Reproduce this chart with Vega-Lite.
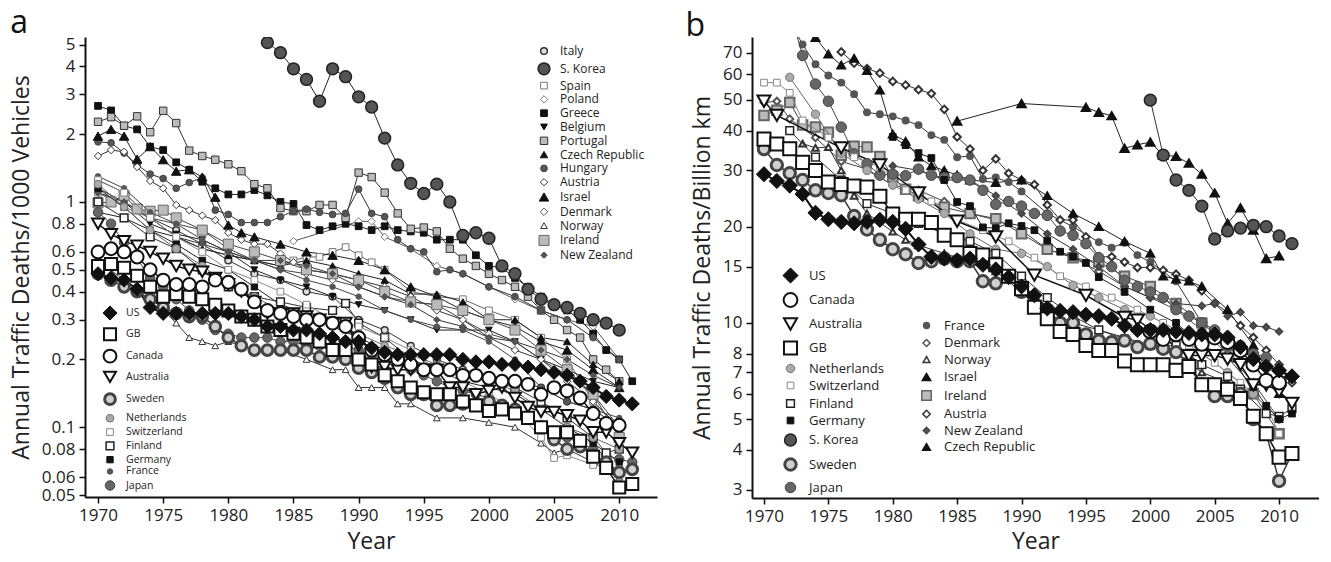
{
"$schema": "https://vega.github.io/schema/vega-lite/v6.json",
"padding": {"left": 10, "top": 6, "right": 0, "bottom": 6},
"spacing": 28,
"config": {
 "font": "Open Sans",
 "view": {"stroke": null},
 "axis": {"domainColor": "#111", "domainWidth": 2, "tickColor": "#111", "tickWidth": 1.5, "tickSize": 6, "labelFontSize": 17, "labelColor": "#222", "titleFontSize": 23, "titleFontWeight": "normal", "titleColor": "#222", "grid": false, "labelPadding": 4},
 "title": {"fontSize": 32, "fontWeight": "normal", "anchor": "start", "color": "#111"},
 "legend": {"labelColor": "#222"}
},
"datasets": {
"a": [
{"s":"Italy","x":1970,"y":1.25},{"s":"Italy","x":1972,"y":1.1},{"s":"Italy","x":1974,"y":0.85},{"s":"Italy","x":1976,"y":0.75},{"s":"Italy","x":1978,"y":0.65},{"s":"Italy","x":1980,"y":0.55},{"s":"Italy","x":1982,"y":0.48},{"s":"Italy","x":1984,"y":0.45},{"s":"Italy","x":1986,"y":0.4},{"s":"Italy","x":1988,"y":0.38},{"s":"Italy","x":1990,"y":0.3},{"s":"Italy","x":1992,"y":0.27},{"s":"Italy","x":1994,"y":0.23},{"s":"Italy","x":1996,"y":0.2},{"s":"Italy","x":1998,"y":0.18},{"s":"Italy","x":2000,"y":0.17},{"s":"Italy","x":2002,"y":0.16},{"s":"Italy","x":2004,"y":0.15},{"s":"Italy","x":2006,"y":0.13},{"s":"Italy","x":2008,"y":0.12},{"s":"Italy","x":2010,"y":0.1},
{"s":"Spain","x":1970,"y":1.1},{"s":"Spain","x":1972,"y":0.95},{"s":"Spain","x":1974,"y":0.85},{"s":"Spain","x":1976,"y":0.7},{"s":"Spain","x":1978,"y":0.62},{"s":"Spain","x":1980,"y":0.58},{"s":"Spain","x":1982,"y":0.55},{"s":"Spain","x":1984,"y":0.52},{"s":"Spain","x":1985,"y":0.55},{"s":"Spain","x":1986,"y":0.57},{"s":"Spain","x":1987,"y":0.57},{"s":"Spain","x":1988,"y":0.6},{"s":"Spain","x":1989,"y":0.63},{"s":"Spain","x":1990,"y":0.58},{"s":"Spain","x":1991,"y":0.54},{"s":"Spain","x":1992,"y":0.5},{"s":"Spain","x":1994,"y":0.4},{"s":"Spain","x":1996,"y":0.38},{"s":"Spain","x":1998,"y":0.37},{"s":"Spain","x":2000,"y":0.33},{"s":"Spain","x":2002,"y":0.3},{"s":"Spain","x":2004,"y":0.25},{"s":"Spain","x":2006,"y":0.2},{"s":"Spain","x":2008,"y":0.13},{"s":"Spain","x":2010,"y":0.1},
{"s":"Poland","x":1985,"y":0.67},{"s":"Poland","x":1990,"y":0.82},{"s":"Poland","x":1991,"y":0.82},{"s":"Poland","x":1992,"y":0.7},{"s":"Poland","x":1994,"y":0.62},{"s":"Poland","x":1996,"y":0.52},{"s":"Poland","x":1998,"y":0.48},{"s":"Poland","x":2000,"y":0.42},{"s":"Poland","x":2002,"y":0.37},{"s":"Poland","x":2004,"y":0.33},{"s":"Poland","x":2006,"y":0.3},{"s":"Poland","x":2008,"y":0.28},{"s":"Poland","x":2010,"y":0.2},
{"s":"Greece","x":1970,"y":2.67},{"s":"Greece","x":1971,"y":2.55},{"s":"Greece","x":1972,"y":2.18},{"s":"Greece","x":1973,"y":2.1},{"s":"Greece","x":1974,"y":1.76},{"s":"Greece","x":1975,"y":1.7},{"s":"Greece","x":1976,"y":1.5},{"s":"Greece","x":1977,"y":1.39},{"s":"Greece","x":1978,"y":1.23},{"s":"Greece","x":1979,"y":1.15},{"s":"Greece","x":1980,"y":1.08},{"s":"Greece","x":1981,"y":1.08},{"s":"Greece","x":1982,"y":1.13},{"s":"Greece","x":1983,"y":1.07},{"s":"Greece","x":1984,"y":1.0},{"s":"Greece","x":1985,"y":0.98},{"s":"Greece","x":1986,"y":0.79},{"s":"Greece","x":1987,"y":0.75},{"s":"Greece","x":1988,"y":0.78},{"s":"Greece","x":1989,"y":0.8},{"s":"Greece","x":1990,"y":0.78},{"s":"Greece","x":1991,"y":0.75},{"s":"Greece","x":1992,"y":0.78},{"s":"Greece","x":1993,"y":0.75},{"s":"Greece","x":1994,"y":0.74},{"s":"Greece","x":1995,"y":0.73},{"s":"Greece","x":1996,"y":0.68},{"s":"Greece","x":1997,"y":0.68},{"s":"Greece","x":1998,"y":0.68},{"s":"Greece","x":1999,"y":0.58},{"s":"Greece","x":2000,"y":0.52},{"s":"Greece","x":2001,"y":0.51},{"s":"Greece","x":2002,"y":0.46},{"s":"Greece","x":2003,"y":0.42},{"s":"Greece","x":2004,"y":0.38},{"s":"Greece","x":2005,"y":0.35},{"s":"Greece","x":2006,"y":0.33},{"s":"Greece","x":2007,"y":0.3},{"s":"Greece","x":2008,"y":0.26},{"s":"Greece","x":2009,"y":0.22},{"s":"Greece","x":2010,"y":0.2},{"s":"Greece","x":2011,"y":0.16},
{"s":"Belgium","x":1970,"y":1.15},{"s":"Belgium","x":1972,"y":1.0},{"s":"Belgium","x":1974,"y":0.8},{"s":"Belgium","x":1976,"y":0.72},{"s":"Belgium","x":1978,"y":0.68},{"s":"Belgium","x":1980,"y":0.6},{"s":"Belgium","x":1982,"y":0.5},{"s":"Belgium","x":1984,"y":0.45},{"s":"Belgium","x":1986,"y":0.42},{"s":"Belgium","x":1988,"y":0.38},{"s":"Belgium","x":1990,"y":0.35},{"s":"Belgium","x":1992,"y":0.33},{"s":"Belgium","x":1994,"y":0.3},{"s":"Belgium","x":1996,"y":0.27},{"s":"Belgium","x":1998,"y":0.27},{"s":"Belgium","x":2000,"y":0.27},{"s":"Belgium","x":2002,"y":0.24},{"s":"Belgium","x":2004,"y":0.2},{"s":"Belgium","x":2006,"y":0.18},{"s":"Belgium","x":2008,"y":0.16},{"s":"Belgium","x":2010,"y":0.15},
{"s":"Portugal","x":1970,"y":2.27},{"s":"Portugal","x":1971,"y":2.38},{"s":"Portugal","x":1972,"y":2.18},{"s":"Portugal","x":1973,"y":2.4},{"s":"Portugal","x":1974,"y":2.04},{"s":"Portugal","x":1975,"y":2.54},{"s":"Portugal","x":1976,"y":2.24},{"s":"Portugal","x":1977,"y":1.69},{"s":"Portugal","x":1978,"y":1.6},{"s":"Portugal","x":1979,"y":1.54},{"s":"Portugal","x":1980,"y":1.47},{"s":"Portugal","x":1981,"y":1.37},{"s":"Portugal","x":1982,"y":1.2},{"s":"Portugal","x":1983,"y":1.15},{"s":"Portugal","x":1984,"y":0.94},{"s":"Portugal","x":1985,"y":0.91},{"s":"Portugal","x":1986,"y":0.91},{"s":"Portugal","x":1987,"y":0.97},{"s":"Portugal","x":1988,"y":0.97},{"s":"Portugal","x":1989,"y":0.85},{"s":"Portugal","x":1990,"y":1.35},{"s":"Portugal","x":1991,"y":1.29},{"s":"Portugal","x":1992,"y":1.1},{"s":"Portugal","x":1993,"y":0.89},{"s":"Portugal","x":1994,"y":0.76},{"s":"Portugal","x":1995,"y":0.77},{"s":"Portugal","x":1996,"y":0.74},{"s":"Portugal","x":1997,"y":0.62},{"s":"Portugal","x":1998,"y":0.56},{"s":"Portugal","x":1999,"y":0.52},{"s":"Portugal","x":2000,"y":0.48},{"s":"Portugal","x":2001,"y":0.45},{"s":"Portugal","x":2002,"y":0.42},{"s":"Portugal","x":2003,"y":0.38},{"s":"Portugal","x":2004,"y":0.33},{"s":"Portugal","x":2005,"y":0.3},{"s":"Portugal","x":2006,"y":0.27},{"s":"Portugal","x":2007,"y":0.25},{"s":"Portugal","x":2008,"y":0.2},{"s":"Portugal","x":2009,"y":0.18},{"s":"Portugal","x":2010,"y":0.16},
{"s":"Czech Republic","x":1970,"y":0.9},{"s":"Czech Republic","x":1972,"y":0.85},{"s":"Czech Republic","x":1974,"y":0.75},{"s":"Czech Republic","x":1976,"y":0.7},{"s":"Czech Republic","x":1978,"y":0.62},{"s":"Czech Republic","x":1980,"y":0.58},{"s":"Czech Republic","x":1982,"y":0.55},{"s":"Czech Republic","x":1984,"y":0.52},{"s":"Czech Republic","x":1986,"y":0.55},{"s":"Czech Republic","x":1988,"y":0.52},{"s":"Czech Republic","x":1990,"y":0.48},{"s":"Czech Republic","x":1992,"y":0.45},{"s":"Czech Republic","x":1994,"y":0.39},{"s":"Czech Republic","x":1996,"y":0.39},{"s":"Czech Republic","x":1998,"y":0.36},{"s":"Czech Republic","x":2000,"y":0.3},{"s":"Czech Republic","x":2002,"y":0.3},{"s":"Czech Republic","x":2004,"y":0.25},{"s":"Czech Republic","x":2006,"y":0.24},{"s":"Czech Republic","x":2008,"y":0.19},{"s":"Czech Republic","x":2010,"y":0.16},
{"s":"Hungary","x":1970,"y":1.85},{"s":"Hungary","x":1971,"y":1.83},{"s":"Hungary","x":1972,"y":1.65},{"s":"Hungary","x":1973,"y":1.46},{"s":"Hungary","x":1974,"y":1.33},{"s":"Hungary","x":1975,"y":1.27},{"s":"Hungary","x":1976,"y":1.15},{"s":"Hungary","x":1977,"y":1.22},{"s":"Hungary","x":1978,"y":1.28},{"s":"Hungary","x":1979,"y":0.92},{"s":"Hungary","x":1980,"y":0.88},{"s":"Hungary","x":1981,"y":0.81},{"s":"Hungary","x":1982,"y":0.81},{"s":"Hungary","x":1983,"y":0.81},{"s":"Hungary","x":1984,"y":0.86},{"s":"Hungary","x":1985,"y":0.91},{"s":"Hungary","x":1986,"y":0.93},{"s":"Hungary","x":1987,"y":0.9},{"s":"Hungary","x":1988,"y":0.88},{"s":"Hungary","x":1989,"y":0.89},{"s":"Hungary","x":1990,"y":1.14},{"s":"Hungary","x":1991,"y":0.89},{"s":"Hungary","x":1992,"y":0.86},{"s":"Hungary","x":1993,"y":0.68},{"s":"Hungary","x":1994,"y":0.62},{"s":"Hungary","x":1995,"y":0.6},{"s":"Hungary","x":1996,"y":0.49},{"s":"Hungary","x":1997,"y":0.5},{"s":"Hungary","x":1998,"y":0.48},{"s":"Hungary","x":2000,"y":0.42},{"s":"Hungary","x":2002,"y":0.38},{"s":"Hungary","x":2004,"y":0.33},{"s":"Hungary","x":2006,"y":0.3},{"s":"Hungary","x":2008,"y":0.25},{"s":"Hungary","x":2010,"y":0.2},
{"s":"Austria","x":1970,"y":1.6},{"s":"Austria","x":1971,"y":1.7},{"s":"Austria","x":1972,"y":1.67},{"s":"Austria","x":1973,"y":1.43},{"s":"Austria","x":1974,"y":1.24},{"s":"Austria","x":1975,"y":1.15},{"s":"Austria","x":1976,"y":0.97},{"s":"Austria","x":1977,"y":0.92},{"s":"Austria","x":1978,"y":0.87},{"s":"Austria","x":1979,"y":0.83},{"s":"Austria","x":1980,"y":0.73},{"s":"Austria","x":1981,"y":0.68},{"s":"Austria","x":1982,"y":0.65},{"s":"Austria","x":1983,"y":0.65},{"s":"Austria","x":1984,"y":0.59},{"s":"Austria","x":1985,"y":0.54},{"s":"Austria","x":1986,"y":0.5},{"s":"Austria","x":1988,"y":0.48},{"s":"Austria","x":1990,"y":0.45},{"s":"Austria","x":1992,"y":0.42},{"s":"Austria","x":1994,"y":0.38},{"s":"Austria","x":1996,"y":0.33},{"s":"Austria","x":1998,"y":0.3},{"s":"Austria","x":2000,"y":0.25},{"s":"Austria","x":2002,"y":0.22},{"s":"Austria","x":2004,"y":0.2},{"s":"Austria","x":2006,"y":0.16},{"s":"Austria","x":2008,"y":0.13},{"s":"Austria","x":2010,"y":0.1},
{"s":"Israel","x":1970,"y":1.96},{"s":"Israel","x":1971,"y":2.1},{"s":"Israel","x":1972,"y":1.96},{"s":"Israel","x":1973,"y":1.55},{"s":"Israel","x":1974,"y":1.76},{"s":"Israel","x":1975,"y":1.54},{"s":"Israel","x":1976,"y":1.37},{"s":"Israel","x":1977,"y":1.39},{"s":"Israel","x":1978,"y":1.29},{"s":"Israel","x":1979,"y":1.05},{"s":"Israel","x":1980,"y":0.79},{"s":"Israel","x":1981,"y":0.73},{"s":"Israel","x":1982,"y":0.7},{"s":"Israel","x":1984,"y":0.65},{"s":"Israel","x":1986,"y":0.6},{"s":"Israel","x":1988,"y":0.58},{"s":"Israel","x":1990,"y":0.55},{"s":"Israel","x":1992,"y":0.5},{"s":"Israel","x":1994,"y":0.42},{"s":"Israel","x":1996,"y":0.38},{"s":"Israel","x":1998,"y":0.33},{"s":"Israel","x":2000,"y":0.3},{"s":"Israel","x":2002,"y":0.28},{"s":"Israel","x":2004,"y":0.24},{"s":"Israel","x":2006,"y":0.22},{"s":"Israel","x":2008,"y":0.18},{"s":"Israel","x":2010,"y":0.15},
{"s":"Denmark","x":1970,"y":1.1},{"s":"Denmark","x":1972,"y":1.0},{"s":"Denmark","x":1974,"y":0.85},{"s":"Denmark","x":1976,"y":0.8},{"s":"Denmark","x":1978,"y":0.75},{"s":"Denmark","x":1980,"y":0.62},{"s":"Denmark","x":1982,"y":0.55},{"s":"Denmark","x":1984,"y":0.5},{"s":"Denmark","x":1986,"y":0.48},{"s":"Denmark","x":1988,"y":0.45},{"s":"Denmark","x":1990,"y":0.42},{"s":"Denmark","x":1992,"y":0.38},{"s":"Denmark","x":1994,"y":0.36},{"s":"Denmark","x":1996,"y":0.35},{"s":"Denmark","x":1998,"y":0.3},{"s":"Denmark","x":2000,"y":0.26},{"s":"Denmark","x":2002,"y":0.24},{"s":"Denmark","x":2004,"y":0.2},{"s":"Denmark","x":2006,"y":0.17},{"s":"Denmark","x":2008,"y":0.14},{"s":"Denmark","x":2010,"y":0.1},
{"s":"Norway","x":1970,"y":0.55},{"s":"Norway","x":1972,"y":0.45},{"s":"Norway","x":1974,"y":0.38},{"s":"Norway","x":1976,"y":0.29},{"s":"Norway","x":1977,"y":0.25},{"s":"Norway","x":1978,"y":0.24},{"s":"Norway","x":1979,"y":0.23},{"s":"Norway","x":1980,"y":0.24},{"s":"Norway","x":1982,"y":0.22},{"s":"Norway","x":1984,"y":0.22},{"s":"Norway","x":1986,"y":0.2},{"s":"Norway","x":1988,"y":0.18},{"s":"Norway","x":1989,"y":0.18},{"s":"Norway","x":1990,"y":0.15},{"s":"Norway","x":1991,"y":0.15},{"s":"Norway","x":1992,"y":0.15},{"s":"Norway","x":1993,"y":0.127},{"s":"Norway","x":1994,"y":0.127},{"s":"Norway","x":1996,"y":0.11},{"s":"Norway","x":1998,"y":0.11},{"s":"Norway","x":2000,"y":0.105},{"s":"Norway","x":2002,"y":0.1},{"s":"Norway","x":2004,"y":0.085},{"s":"Norway","x":2005,"y":0.077},{"s":"Norway","x":2006,"y":0.08},{"s":"Norway","x":2008,"y":0.07},{"s":"Norway","x":2010,"y":0.06},
{"s":"Ireland","x":1970,"y":0.99},{"s":"Ireland","x":1971,"y":1.0},{"s":"Ireland","x":1972,"y":1.07},{"s":"Ireland","x":1973,"y":0.93},{"s":"Ireland","x":1974,"y":0.91},{"s":"Ireland","x":1975,"y":0.92},{"s":"Ireland","x":1976,"y":0.85},{"s":"Ireland","x":1978,"y":0.75},{"s":"Ireland","x":1980,"y":0.65},{"s":"Ireland","x":1982,"y":0.6},{"s":"Ireland","x":1984,"y":0.55},{"s":"Ireland","x":1986,"y":0.5},{"s":"Ireland","x":1988,"y":0.48},{"s":"Ireland","x":1990,"y":0.45},{"s":"Ireland","x":1992,"y":0.4},{"s":"Ireland","x":1994,"y":0.36},{"s":"Ireland","x":1996,"y":0.35},{"s":"Ireland","x":1998,"y":0.33},{"s":"Ireland","x":2000,"y":0.3},{"s":"Ireland","x":2002,"y":0.27},{"s":"Ireland","x":2004,"y":0.22},{"s":"Ireland","x":2006,"y":0.18},{"s":"Ireland","x":2008,"y":0.14},{"s":"Ireland","x":2010,"y":0.09},
{"s":"New Zealand","x":1970,"y":1.1},{"s":"New Zealand","x":1972,"y":1.0},{"s":"New Zealand","x":1974,"y":0.85},{"s":"New Zealand","x":1976,"y":0.7},{"s":"New Zealand","x":1978,"y":0.65},{"s":"New Zealand","x":1980,"y":0.6},{"s":"New Zealand","x":1982,"y":0.55},{"s":"New Zealand","x":1984,"y":0.55},{"s":"New Zealand","x":1986,"y":0.52},{"s":"New Zealand","x":1988,"y":0.48},{"s":"New Zealand","x":1990,"y":0.42},{"s":"New Zealand","x":1992,"y":0.38},{"s":"New Zealand","x":1994,"y":0.35},{"s":"New Zealand","x":1996,"y":0.3},{"s":"New Zealand","x":1998,"y":0.28},{"s":"New Zealand","x":2000,"y":0.25},{"s":"New Zealand","x":2002,"y":0.24},{"s":"New Zealand","x":2004,"y":0.22},{"s":"New Zealand","x":2006,"y":0.2},{"s":"New Zealand","x":2008,"y":0.17},{"s":"New Zealand","x":2010,"y":0.15},
{"s":"S. Korea","x":1983,"y":5.1},{"s":"S. Korea","x":1984,"y":4.6},{"s":"S. Korea","x":1985,"y":3.9},{"s":"S. Korea","x":1986,"y":3.5},{"s":"S. Korea","x":1987,"y":2.8},{"s":"S. Korea","x":1988,"y":3.9},{"s":"S. Korea","x":1989,"y":3.6},{"s":"S. Korea","x":1990,"y":2.93},{"s":"S. Korea","x":1991,"y":2.64},{"s":"S. Korea","x":1992,"y":1.92},{"s":"S. Korea","x":1993,"y":1.46},{"s":"S. Korea","x":1994,"y":1.21},{"s":"S. Korea","x":1995,"y":1.09},{"s":"S. Korea","x":1996,"y":1.2},{"s":"S. Korea","x":1997,"y":1.0},{"s":"S. Korea","x":1998,"y":0.71},{"s":"S. Korea","x":1999,"y":0.73},{"s":"S. Korea","x":2000,"y":0.69},{"s":"S. Korea","x":2001,"y":0.52},{"s":"S. Korea","x":2002,"y":0.48},{"s":"S. Korea","x":2003,"y":0.41},{"s":"S. Korea","x":2004,"y":0.37},{"s":"S. Korea","x":2005,"y":0.35},{"s":"S. Korea","x":2006,"y":0.34},{"s":"S. Korea","x":2007,"y":0.32},{"s":"S. Korea","x":2008,"y":0.3},{"s":"S. Korea","x":2009,"y":0.29},{"s":"S. Korea","x":2010,"y":0.27},
{"s":"Japan","x":1970,"y":0.9},{"s":"Japan","x":1971,"y":0.8},{"s":"Japan","x":1972,"y":0.66},{"s":"Japan","x":1973,"y":0.56},{"s":"Japan","x":1974,"y":0.46},{"s":"Japan","x":1975,"y":0.42},{"s":"Japan","x":1976,"y":0.37},{"s":"Japan","x":1977,"y":0.33},{"s":"Japan","x":1978,"y":0.3},{"s":"Japan","x":1979,"y":0.27},{"s":"Japan","x":1980,"y":0.26},{"s":"Japan","x":1981,"y":0.25},{"s":"Japan","x":1982,"y":0.25},{"s":"Japan","x":1983,"y":0.25},{"s":"Japan","x":1984,"y":0.24},{"s":"Japan","x":1985,"y":0.24},{"s":"Japan","x":1986,"y":0.23},{"s":"Japan","x":1987,"y":0.23},{"s":"Japan","x":1988,"y":0.23},{"s":"Japan","x":1989,"y":0.23},{"s":"Japan","x":1990,"y":0.22},{"s":"Japan","x":1991,"y":0.21},{"s":"Japan","x":1992,"y":0.2},{"s":"Japan","x":1993,"y":0.19},{"s":"Japan","x":1994,"y":0.18},{"s":"Japan","x":1995,"y":0.17},{"s":"Japan","x":1996,"y":0.16},{"s":"Japan","x":1997,"y":0.15},{"s":"Japan","x":1998,"y":0.145},{"s":"Japan","x":1999,"y":0.14},{"s":"Japan","x":2000,"y":0.135},{"s":"Japan","x":2001,"y":0.125},{"s":"Japan","x":2002,"y":0.115},{"s":"Japan","x":2003,"y":0.11},{"s":"Japan","x":2004,"y":0.1},{"s":"Japan","x":2005,"y":0.095},{"s":"Japan","x":2006,"y":0.09},{"s":"Japan","x":2007,"y":0.085},{"s":"Japan","x":2008,"y":0.08},{"s":"Japan","x":2009,"y":0.075},{"s":"Japan","x":2010,"y":0.072},{"s":"Japan","x":2011,"y":0.07},
{"s":"France","x":1970,"y":1.3},{"s":"France","x":1972,"y":1.15},{"s":"France","x":1974,"y":0.9},{"s":"France","x":1976,"y":0.8},{"s":"France","x":1978,"y":0.68},{"s":"France","x":1980,"y":0.6},{"s":"France","x":1982,"y":0.55},{"s":"France","x":1984,"y":0.5},{"s":"France","x":1986,"y":0.45},{"s":"France","x":1988,"y":0.42},{"s":"France","x":1990,"y":0.38},{"s":"France","x":1992,"y":0.33},{"s":"France","x":1994,"y":0.3},{"s":"France","x":1996,"y":0.28},{"s":"France","x":1998,"y":0.27},{"s":"France","x":2000,"y":0.24},{"s":"France","x":2002,"y":0.2},{"s":"France","x":2004,"y":0.15},{"s":"France","x":2006,"y":0.13},{"s":"France","x":2008,"y":0.12},{"s":"France","x":2010,"y":0.11},
{"s":"Germany","x":1970,"y":1.15},{"s":"Germany","x":1972,"y":0.95},{"s":"Germany","x":1974,"y":0.75},{"s":"Germany","x":1976,"y":0.65},{"s":"Germany","x":1978,"y":0.55},{"s":"Germany","x":1980,"y":0.5},{"s":"Germany","x":1982,"y":0.42},{"s":"Germany","x":1984,"y":0.35},{"s":"Germany","x":1986,"y":0.32},{"s":"Germany","x":1988,"y":0.28},{"s":"Germany","x":1990,"y":0.25},{"s":"Germany","x":1992,"y":0.22},{"s":"Germany","x":1994,"y":0.2},{"s":"Germany","x":1996,"y":0.18},{"s":"Germany","x":1998,"y":0.16},{"s":"Germany","x":2000,"y":0.15},{"s":"Germany","x":2002,"y":0.14},{"s":"Germany","x":2004,"y":0.12},{"s":"Germany","x":2006,"y":0.1},{"s":"Germany","x":2008,"y":0.085},{"s":"Germany","x":2010,"y":0.07},
{"s":"Finland","x":1970,"y":1.0},{"s":"Finland","x":1972,"y":0.85},{"s":"Finland","x":1974,"y":0.7},{"s":"Finland","x":1976,"y":0.62},{"s":"Finland","x":1978,"y":0.5},{"s":"Finland","x":1980,"y":0.42},{"s":"Finland","x":1982,"y":0.38},{"s":"Finland","x":1984,"y":0.36},{"s":"Finland","x":1986,"y":0.34},{"s":"Finland","x":1988,"y":0.33},{"s":"Finland","x":1989,"y":0.355},{"s":"Finland","x":1990,"y":0.29},{"s":"Finland","x":1992,"y":0.25},{"s":"Finland","x":1994,"y":0.2},{"s":"Finland","x":1996,"y":0.18},{"s":"Finland","x":1998,"y":0.17},{"s":"Finland","x":2000,"y":0.16},{"s":"Finland","x":2002,"y":0.15},{"s":"Finland","x":2004,"y":0.13},{"s":"Finland","x":2006,"y":0.11},{"s":"Finland","x":2008,"y":0.09},{"s":"Finland","x":2009,"y":0.077},{"s":"Finland","x":2010,"y":0.08},
{"s":"Switzerland","x":1970,"y":1.25},{"s":"Switzerland","x":1972,"y":1.1},{"s":"Switzerland","x":1974,"y":0.85},{"s":"Switzerland","x":1976,"y":0.7},{"s":"Switzerland","x":1978,"y":0.6},{"s":"Switzerland","x":1980,"y":0.5},{"s":"Switzerland","x":1982,"y":0.45},{"s":"Switzerland","x":1984,"y":0.4},{"s":"Switzerland","x":1986,"y":0.35},{"s":"Switzerland","x":1988,"y":0.3},{"s":"Switzerland","x":1990,"y":0.28},{"s":"Switzerland","x":1992,"y":0.25},{"s":"Switzerland","x":1994,"y":0.22},{"s":"Switzerland","x":1996,"y":0.18},{"s":"Switzerland","x":1998,"y":0.16},{"s":"Switzerland","x":2000,"y":0.14},{"s":"Switzerland","x":2002,"y":0.12},{"s":"Switzerland","x":2004,"y":0.09},{"s":"Switzerland","x":2005,"y":0.073},{"s":"Switzerland","x":2006,"y":0.075},{"s":"Switzerland","x":2008,"y":0.068},{"s":"Switzerland","x":2010,"y":0.065},
{"s":"Netherlands","x":1970,"y":1.2},{"s":"Netherlands","x":1972,"y":0.95},{"s":"Netherlands","x":1974,"y":0.75},{"s":"Netherlands","x":1976,"y":0.62},{"s":"Netherlands","x":1978,"y":0.52},{"s":"Netherlands","x":1980,"y":0.43},{"s":"Netherlands","x":1982,"y":0.38},{"s":"Netherlands","x":1984,"y":0.33},{"s":"Netherlands","x":1986,"y":0.3},{"s":"Netherlands","x":1988,"y":0.29},{"s":"Netherlands","x":1990,"y":0.26},{"s":"Netherlands","x":1992,"y":0.23},{"s":"Netherlands","x":1994,"y":0.21},{"s":"Netherlands","x":1996,"y":0.19},{"s":"Netherlands","x":1998,"y":0.17},{"s":"Netherlands","x":2000,"y":0.16},{"s":"Netherlands","x":2002,"y":0.145},{"s":"Netherlands","x":2004,"y":0.12},{"s":"Netherlands","x":2006,"y":0.1},{"s":"Netherlands","x":2008,"y":0.09},{"s":"Netherlands","x":2010,"y":0.08},
{"s":"Sweden","x":1970,"y":0.48},{"s":"Sweden","x":1971,"y":0.45},{"s":"Sweden","x":1972,"y":0.42},{"s":"Sweden","x":1973,"y":0.4},{"s":"Sweden","x":1974,"y":0.37},{"s":"Sweden","x":1975,"y":0.34},{"s":"Sweden","x":1976,"y":0.32},{"s":"Sweden","x":1977,"y":0.31},{"s":"Sweden","x":1978,"y":0.31},{"s":"Sweden","x":1979,"y":0.28},{"s":"Sweden","x":1980,"y":0.25},{"s":"Sweden","x":1981,"y":0.23},{"s":"Sweden","x":1982,"y":0.22},{"s":"Sweden","x":1983,"y":0.22},{"s":"Sweden","x":1984,"y":0.22},{"s":"Sweden","x":1985,"y":0.22},{"s":"Sweden","x":1986,"y":0.22},{"s":"Sweden","x":1987,"y":0.205},{"s":"Sweden","x":1988,"y":0.205},{"s":"Sweden","x":1989,"y":0.2},{"s":"Sweden","x":1990,"y":0.183},{"s":"Sweden","x":1991,"y":0.175},{"s":"Sweden","x":1992,"y":0.165},{"s":"Sweden","x":1993,"y":0.15},{"s":"Sweden","x":1994,"y":0.14},{"s":"Sweden","x":1995,"y":0.14},{"s":"Sweden","x":1996,"y":0.125},{"s":"Sweden","x":1997,"y":0.125},{"s":"Sweden","x":1998,"y":0.127},{"s":"Sweden","x":1999,"y":0.125},{"s":"Sweden","x":2000,"y":0.13},{"s":"Sweden","x":2001,"y":0.125},{"s":"Sweden","x":2002,"y":0.12},{"s":"Sweden","x":2003,"y":0.11},{"s":"Sweden","x":2004,"y":0.1},{"s":"Sweden","x":2005,"y":0.088},{"s":"Sweden","x":2006,"y":0.08},{"s":"Sweden","x":2007,"y":0.082},{"s":"Sweden","x":2008,"y":0.075},{"s":"Sweden","x":2009,"y":0.07},{"s":"Sweden","x":2010,"y":0.063},{"s":"Sweden","x":2011,"y":0.065},
{"s":"Australia","x":1970,"y":0.8},{"s":"Australia","x":1971,"y":0.72},{"s":"Australia","x":1972,"y":0.67},{"s":"Australia","x":1973,"y":0.64},{"s":"Australia","x":1974,"y":0.6},{"s":"Australia","x":1975,"y":0.56},{"s":"Australia","x":1976,"y":0.52},{"s":"Australia","x":1977,"y":0.5},{"s":"Australia","x":1978,"y":0.49},{"s":"Australia","x":1979,"y":0.46},{"s":"Australia","x":1980,"y":0.43},{"s":"Australia","x":1981,"y":0.4},{"s":"Australia","x":1982,"y":0.36},{"s":"Australia","x":1983,"y":0.32},{"s":"Australia","x":1984,"y":0.32},{"s":"Australia","x":1985,"y":0.32},{"s":"Australia","x":1986,"y":0.31},{"s":"Australia","x":1987,"y":0.3},{"s":"Australia","x":1988,"y":0.29},{"s":"Australia","x":1989,"y":0.29},{"s":"Australia","x":1990,"y":0.23},{"s":"Australia","x":1991,"y":0.185},{"s":"Australia","x":1992,"y":0.185},{"s":"Australia","x":1993,"y":0.18},{"s":"Australia","x":1994,"y":0.18},{"s":"Australia","x":1995,"y":0.18},{"s":"Australia","x":1996,"y":0.18},{"s":"Australia","x":1997,"y":0.15},{"s":"Australia","x":1998,"y":0.15},{"s":"Australia","x":1999,"y":0.14},{"s":"Australia","x":2000,"y":0.145},{"s":"Australia","x":2001,"y":0.15},{"s":"Australia","x":2002,"y":0.135},{"s":"Australia","x":2003,"y":0.123},{"s":"Australia","x":2004,"y":0.117},{"s":"Australia","x":2005,"y":0.117},{"s":"Australia","x":2006,"y":0.113},{"s":"Australia","x":2007,"y":0.107},{"s":"Australia","x":2008,"y":0.095},{"s":"Australia","x":2009,"y":0.095},{"s":"Australia","x":2010,"y":0.085},{"s":"Australia","x":2011,"y":0.077},
{"s":"GB","x":1970,"y":0.52},{"s":"GB","x":1971,"y":0.53},{"s":"GB","x":1972,"y":0.51},{"s":"GB","x":1973,"y":0.47},{"s":"GB","x":1974,"y":0.42},{"s":"GB","x":1975,"y":0.38},{"s":"GB","x":1976,"y":0.39},{"s":"GB","x":1977,"y":0.38},{"s":"GB","x":1978,"y":0.37},{"s":"GB","x":1979,"y":0.35},{"s":"GB","x":1980,"y":0.33},{"s":"GB","x":1981,"y":0.31},{"s":"GB","x":1982,"y":0.3},{"s":"GB","x":1983,"y":0.28},{"s":"GB","x":1984,"y":0.27},{"s":"GB","x":1985,"y":0.26},{"s":"GB","x":1986,"y":0.25},{"s":"GB","x":1987,"y":0.24},{"s":"GB","x":1988,"y":0.22},{"s":"GB","x":1989,"y":0.22},{"s":"GB","x":1990,"y":0.2},{"s":"GB","x":1991,"y":0.19},{"s":"GB","x":1992,"y":0.17},{"s":"GB","x":1993,"y":0.16},{"s":"GB","x":1994,"y":0.15},{"s":"GB","x":1995,"y":0.143},{"s":"GB","x":1996,"y":0.14},{"s":"GB","x":1997,"y":0.14},{"s":"GB","x":1998,"y":0.13},{"s":"GB","x":1999,"y":0.125},{"s":"GB","x":2000,"y":0.118},{"s":"GB","x":2001,"y":0.12},{"s":"GB","x":2002,"y":0.115},{"s":"GB","x":2003,"y":0.11},{"s":"GB","x":2004,"y":0.1},{"s":"GB","x":2005,"y":0.095},{"s":"GB","x":2006,"y":0.095},{"s":"GB","x":2007,"y":0.087},{"s":"GB","x":2008,"y":0.074},{"s":"GB","x":2009,"y":0.066},{"s":"GB","x":2010,"y":0.054},{"s":"GB","x":2011,"y":0.056},
{"s":"Canada","x":1970,"y":0.6},{"s":"Canada","x":1971,"y":0.62},{"s":"Canada","x":1972,"y":0.6},{"s":"Canada","x":1973,"y":0.57},{"s":"Canada","x":1974,"y":0.5},{"s":"Canada","x":1975,"y":0.45},{"s":"Canada","x":1976,"y":0.43},{"s":"Canada","x":1977,"y":0.43},{"s":"Canada","x":1978,"y":0.42},{"s":"Canada","x":1979,"y":0.45},{"s":"Canada","x":1980,"y":0.44},{"s":"Canada","x":1981,"y":0.41},{"s":"Canada","x":1982,"y":0.36},{"s":"Canada","x":1983,"y":0.33},{"s":"Canada","x":1984,"y":0.32},{"s":"Canada","x":1985,"y":0.31},{"s":"Canada","x":1986,"y":0.3},{"s":"Canada","x":1987,"y":0.3},{"s":"Canada","x":1988,"y":0.29},{"s":"Canada","x":1989,"y":0.28},{"s":"Canada","x":1990,"y":0.25},{"s":"Canada","x":1991,"y":0.22},{"s":"Canada","x":1992,"y":0.21},{"s":"Canada","x":1993,"y":0.2},{"s":"Canada","x":1994,"y":0.19},{"s":"Canada","x":1995,"y":0.18},{"s":"Canada","x":1996,"y":0.18},{"s":"Canada","x":1997,"y":0.18},{"s":"Canada","x":1998,"y":0.17},{"s":"Canada","x":1999,"y":0.17},{"s":"Canada","x":2000,"y":0.165},{"s":"Canada","x":2001,"y":0.16},{"s":"Canada","x":2002,"y":0.16},{"s":"Canada","x":2003,"y":0.155},{"s":"Canada","x":2004,"y":0.14},{"s":"Canada","x":2005,"y":0.15},{"s":"Canada","x":2006,"y":0.145},{"s":"Canada","x":2007,"y":0.135},{"s":"Canada","x":2008,"y":0.115},{"s":"Canada","x":2009,"y":0.104},{"s":"Canada","x":2010,"y":0.102},
{"s":"US","x":1970,"y":0.48},{"s":"US","x":1971,"y":0.46},{"s":"US","x":1972,"y":0.45},{"s":"US","x":1973,"y":0.41},{"s":"US","x":1974,"y":0.34},{"s":"US","x":1975,"y":0.32},{"s":"US","x":1976,"y":0.32},{"s":"US","x":1977,"y":0.32},{"s":"US","x":1978,"y":0.32},{"s":"US","x":1979,"y":0.32},{"s":"US","x":1980,"y":0.32},{"s":"US","x":1981,"y":0.31},{"s":"US","x":1982,"y":0.3},{"s":"US","x":1983,"y":0.28},{"s":"US","x":1984,"y":0.28},{"s":"US","x":1985,"y":0.27},{"s":"US","x":1986,"y":0.27},{"s":"US","x":1987,"y":0.26},{"s":"US","x":1988,"y":0.25},{"s":"US","x":1989,"y":0.24},{"s":"US","x":1990,"y":0.24},{"s":"US","x":1991,"y":0.225},{"s":"US","x":1992,"y":0.215},{"s":"US","x":1993,"y":0.21},{"s":"US","x":1994,"y":0.21},{"s":"US","x":1995,"y":0.21},{"s":"US","x":1996,"y":0.21},{"s":"US","x":1997,"y":0.21},{"s":"US","x":1998,"y":0.2},{"s":"US","x":1999,"y":0.195},{"s":"US","x":2000,"y":0.195},{"s":"US","x":2001,"y":0.19},{"s":"US","x":2002,"y":0.19},{"s":"US","x":2003,"y":0.185},{"s":"US","x":2004,"y":0.18},{"s":"US","x":2005,"y":0.175},{"s":"US","x":2006,"y":0.17},{"s":"US","x":2007,"y":0.16},{"s":"US","x":2008,"y":0.15},{"s":"US","x":2009,"y":0.137},{"s":"US","x":2010,"y":0.132},{"s":"US","x":2011,"y":0.127}
],
"b": [
{"s":"France","x":1972,"y":88},{"s":"France","x":1973,"y":74.4},{"s":"France","x":1974,"y":64.5},{"s":"France","x":1975,"y":59.5},{"s":"France","x":1976,"y":56.5},{"s":"France","x":1977,"y":52},{"s":"France","x":1978,"y":45.6},{"s":"France","x":1979,"y":45},{"s":"France","x":1980,"y":44.3},{"s":"France","x":1981,"y":43},{"s":"France","x":1982,"y":41.6},{"s":"France","x":1983,"y":38.7},{"s":"France","x":1984,"y":37.4},{"s":"France","x":1985,"y":33},{"s":"France","x":1986,"y":33.3},{"s":"France","x":1987,"y":28.2},{"s":"France","x":1988,"y":28.5},{"s":"France","x":1989,"y":27.6},{"s":"France","x":1990,"y":25.8},{"s":"France","x":1992,"y":22},{"s":"France","x":1994,"y":20},{"s":"France","x":1996,"y":17.9},{"s":"France","x":1997,"y":17.2},{"s":"France","x":1998,"y":17.8},{"s":"France","x":1999,"y":16.3},{"s":"France","x":2000,"y":15.5},{"s":"France","x":2002,"y":13.5},{"s":"France","x":2004,"y":10},{"s":"France","x":2006,"y":9},{"s":"France","x":2008,"y":8},{"s":"France","x":2010,"y":7},{"s":"France","x":2011,"y":6.8},
{"s":"Denmark","x":1970,"y":49},{"s":"Denmark","x":1971,"y":49.4},{"s":"Denmark","x":1972,"y":43.5},{"s":"Denmark","x":1974,"y":38},{"s":"Denmark","x":1976,"y":32},{"s":"Denmark","x":1978,"y":30.3},{"s":"Denmark","x":1980,"y":27},{"s":"Denmark","x":1982,"y":26},{"s":"Denmark","x":1984,"y":24},{"s":"Denmark","x":1986,"y":22},{"s":"Denmark","x":1988,"y":21},{"s":"Denmark","x":1990,"y":19.5},{"s":"Denmark","x":1992,"y":17},{"s":"Denmark","x":1994,"y":16},{"s":"Denmark","x":1996,"y":14.5},{"s":"Denmark","x":1998,"y":13},{"s":"Denmark","x":2000,"y":12},{"s":"Denmark","x":2002,"y":11},{"s":"Denmark","x":2004,"y":9.5},{"s":"Denmark","x":2006,"y":8},{"s":"Denmark","x":2008,"y":6.5},{"s":"Denmark","x":2010,"y":5},
{"s":"Norway","x":1973,"y":36.4},{"s":"Norway","x":1974,"y":35.3},{"s":"Norway","x":1975,"y":35.5},{"s":"Norway","x":1976,"y":30},{"s":"Norway","x":1977,"y":25},{"s":"Norway","x":1978,"y":22},{"s":"Norway","x":1980,"y":19.3},{"s":"Norway","x":1981,"y":18.2},{"s":"Norway","x":1982,"y":17.5},{"s":"Norway","x":1984,"y":16.5},{"s":"Norway","x":1986,"y":15.5},{"s":"Norway","x":1988,"y":14.5},{"s":"Norway","x":1990,"y":12.5},{"s":"Norway","x":1992,"y":11},{"s":"Norway","x":1994,"y":10},{"s":"Norway","x":1996,"y":9.5},{"s":"Norway","x":1998,"y":9},{"s":"Norway","x":2000,"y":8.5},{"s":"Norway","x":2002,"y":8},{"s":"Norway","x":2004,"y":7},{"s":"Norway","x":2006,"y":6.5},{"s":"Norway","x":2008,"y":6},{"s":"Norway","x":2010,"y":5},
{"s":"Israel","x":1985,"y":42.8},{"s":"Israel","x":1990,"y":48.6},{"s":"Israel","x":1995,"y":47.3},{"s":"Israel","x":1996,"y":45.6},{"s":"Israel","x":1997,"y":44.5},{"s":"Israel","x":1998,"y":35.2},{"s":"Israel","x":1999,"y":36.1},{"s":"Israel","x":2000,"y":36.8},{"s":"Israel","x":2001,"y":33.5},{"s":"Israel","x":2002,"y":33.2},{"s":"Israel","x":2003,"y":31.6},{"s":"Israel","x":2004,"y":29.2},{"s":"Israel","x":2005,"y":25.5},{"s":"Israel","x":2006,"y":20.5},{"s":"Israel","x":2007,"y":22.9},{"s":"Israel","x":2008,"y":19.5},{"s":"Israel","x":2009,"y":15.9},{"s":"Israel","x":2010,"y":16.2},
{"s":"Ireland","x":1970,"y":44.6},{"s":"Ireland","x":1971,"y":46.3},{"s":"Ireland","x":1972,"y":49},{"s":"Ireland","x":1973,"y":41.6},{"s":"Ireland","x":1974,"y":41},{"s":"Ireland","x":1975,"y":39.5},{"s":"Ireland","x":1976,"y":33.5},{"s":"Ireland","x":1977,"y":35.7},{"s":"Ireland","x":1978,"y":35.5},{"s":"Ireland","x":1979,"y":33.2},{"s":"Ireland","x":1980,"y":28.6},{"s":"Ireland","x":1981,"y":26.2},{"s":"Ireland","x":1982,"y":25},{"s":"Ireland","x":1984,"y":23},{"s":"Ireland","x":1986,"y":22},{"s":"Ireland","x":1988,"y":21.2},{"s":"Ireland","x":1990,"y":19},{"s":"Ireland","x":1992,"y":17},{"s":"Ireland","x":1994,"y":16},{"s":"Ireland","x":1996,"y":15.5},{"s":"Ireland","x":1998,"y":14},{"s":"Ireland","x":2000,"y":13},{"s":"Ireland","x":2002,"y":11.5},{"s":"Ireland","x":2004,"y":10},{"s":"Ireland","x":2006,"y":8.5},{"s":"Ireland","x":2008,"y":6},{"s":"Ireland","x":2010,"y":4.5},
{"s":"Austria","x":1976,"y":70.5},{"s":"Austria","x":1977,"y":65},{"s":"Austria","x":1978,"y":62.5},{"s":"Austria","x":1979,"y":60.5},{"s":"Austria","x":1980,"y":57},{"s":"Austria","x":1981,"y":55.5},{"s":"Austria","x":1982,"y":53.7},{"s":"Austria","x":1983,"y":52.2},{"s":"Austria","x":1984,"y":46.6},{"s":"Austria","x":1985,"y":38.2},{"s":"Austria","x":1986,"y":35},{"s":"Austria","x":1987,"y":30},{"s":"Austria","x":1988,"y":32.6},{"s":"Austria","x":1989,"y":29.4},{"s":"Austria","x":1990,"y":28},{"s":"Austria","x":1991,"y":27.1},{"s":"Austria","x":1992,"y":23.4},{"s":"Austria","x":1993,"y":21},{"s":"Austria","x":1994,"y":21},{"s":"Austria","x":1995,"y":18.6},{"s":"Austria","x":1996,"y":16.1},{"s":"Austria","x":1997,"y":16.1},{"s":"Austria","x":1998,"y":15.5},{"s":"Austria","x":1999,"y":14.9},{"s":"Austria","x":2000,"y":14.9},{"s":"Austria","x":2001,"y":14.6},{"s":"Austria","x":2002,"y":14.2},{"s":"Austria","x":2003,"y":13.6},{"s":"Austria","x":2004,"y":12.6},{"s":"Austria","x":2005,"y":11.5},{"s":"Austria","x":2006,"y":10.8},{"s":"Austria","x":2007,"y":9.8},{"s":"Austria","x":2008,"y":9},{"s":"Austria","x":2009,"y":8.2},{"s":"Austria","x":2010,"y":7.4},{"s":"Austria","x":2011,"y":6.5},
{"s":"New Zealand","x":1980,"y":31},{"s":"New Zealand","x":1982,"y":30},{"s":"New Zealand","x":1984,"y":28},{"s":"New Zealand","x":1986,"y":28},{"s":"New Zealand","x":1988,"y":25},{"s":"New Zealand","x":1990,"y":22},{"s":"New Zealand","x":1992,"y":19},{"s":"New Zealand","x":1994,"y":17},{"s":"New Zealand","x":1996,"y":15},{"s":"New Zealand","x":1998,"y":13},{"s":"New Zealand","x":2000,"y":12},{"s":"New Zealand","x":2002,"y":11.5},{"s":"New Zealand","x":2004,"y":11.3},{"s":"New Zealand","x":2005,"y":11.5},{"s":"New Zealand","x":2006,"y":10.5},{"s":"New Zealand","x":2007,"y":10.8},{"s":"New Zealand","x":2008,"y":9.8},{"s":"New Zealand","x":2009,"y":9.7},{"s":"New Zealand","x":2010,"y":9.4},
{"s":"Czech Republic","x":1974,"y":78.2},{"s":"Czech Republic","x":1975,"y":69.4},{"s":"Czech Republic","x":1976,"y":64.1},{"s":"Czech Republic","x":1977,"y":67.3},{"s":"Czech Republic","x":1978,"y":61.6},{"s":"Czech Republic","x":1979,"y":53.5},{"s":"Czech Republic","x":1980,"y":39},{"s":"Czech Republic","x":1981,"y":37},{"s":"Czech Republic","x":1982,"y":33},{"s":"Czech Republic","x":1983,"y":31},{"s":"Czech Republic","x":1984,"y":30},{"s":"Czech Republic","x":1985,"y":29},{"s":"Czech Republic","x":1986,"y":28},{"s":"Czech Republic","x":1988,"y":27.5},{"s":"Czech Republic","x":1990,"y":28},{"s":"Czech Republic","x":1992,"y":25},{"s":"Czech Republic","x":1994,"y":22},{"s":"Czech Republic","x":1996,"y":20},{"s":"Czech Republic","x":1998,"y":18},{"s":"Czech Republic","x":2000,"y":16.5},{"s":"Czech Republic","x":2001,"y":14},{"s":"Czech Republic","x":2002,"y":13.7},{"s":"Czech Republic","x":2003,"y":13.5},{"s":"Czech Republic","x":2004,"y":13},{"s":"Czech Republic","x":2006,"y":11},{"s":"Czech Republic","x":2008,"y":8.5},{"s":"Czech Republic","x":2010,"y":6},
{"s":"Japan","x":1972,"y":95},{"s":"Japan","x":1973,"y":68.7},{"s":"Japan","x":1974,"y":55.9},{"s":"Japan","x":1975,"y":49.4},{"s":"Japan","x":1976,"y":41},{"s":"Japan","x":1977,"y":33.8},{"s":"Japan","x":1978,"y":31.5},{"s":"Japan","x":1979,"y":29},{"s":"Japan","x":1980,"y":29.2},{"s":"Japan","x":1981,"y":28.9},{"s":"Japan","x":1982,"y":30.3},{"s":"Japan","x":1983,"y":29},{"s":"Japan","x":1984,"y":28.5},{"s":"Japan","x":1985,"y":28.5},{"s":"Japan","x":1986,"y":28},{"s":"Japan","x":1987,"y":26},{"s":"Japan","x":1988,"y":23.5},{"s":"Japan","x":1989,"y":24},{"s":"Japan","x":1990,"y":23.2},{"s":"Japan","x":1991,"y":22},{"s":"Japan","x":1992,"y":21.7},{"s":"Japan","x":1993,"y":19.4},{"s":"Japan","x":1994,"y":18.8},{"s":"Japan","x":1995,"y":17.7},{"s":"Japan","x":1996,"y":16},{"s":"Japan","x":1997,"y":15},{"s":"Japan","x":1998,"y":13.6},{"s":"Japan","x":1999,"y":13},{"s":"Japan","x":2000,"y":12.5},{"s":"Japan","x":2001,"y":12},{"s":"Japan","x":2002,"y":11},{"s":"Japan","x":2003,"y":10.5},{"s":"Japan","x":2004,"y":10},{"s":"Japan","x":2005,"y":9.5},{"s":"Japan","x":2006,"y":9},{"s":"Japan","x":2007,"y":8.5},{"s":"Japan","x":2008,"y":8},{"s":"Japan","x":2009,"y":7.8},
{"s":"Netherlands","x":1972,"y":58.7},{"s":"Netherlands","x":1974,"y":45},{"s":"Netherlands","x":1976,"y":34},{"s":"Netherlands","x":1978,"y":30},{"s":"Netherlands","x":1980,"y":27},{"s":"Netherlands","x":1982,"y":24.4},{"s":"Netherlands","x":1984,"y":22},{"s":"Netherlands","x":1986,"y":19},{"s":"Netherlands","x":1988,"y":17},{"s":"Netherlands","x":1990,"y":16.5},{"s":"Netherlands","x":1992,"y":15},{"s":"Netherlands","x":1994,"y":13.1},{"s":"Netherlands","x":1996,"y":12},{"s":"Netherlands","x":1998,"y":11},{"s":"Netherlands","x":2000,"y":10.5},{"s":"Netherlands","x":2002,"y":9.5},{"s":"Netherlands","x":2004,"y":8},{"s":"Netherlands","x":2006,"y":7},{"s":"Netherlands","x":2008,"y":6},{"s":"Netherlands","x":2010,"y":5},
{"s":"Switzerland","x":1970,"y":56.5},{"s":"Switzerland","x":1971,"y":56.5},{"s":"Switzerland","x":1972,"y":52.5},{"s":"Switzerland","x":1973,"y":43},{"s":"Switzerland","x":1975,"y":38},{"s":"Switzerland","x":1977,"y":33},{"s":"Switzerland","x":1979,"y":30.8},{"s":"Switzerland","x":1981,"y":26},{"s":"Switzerland","x":1983,"y":24},{"s":"Switzerland","x":1985,"y":21},{"s":"Switzerland","x":1987,"y":19.5},{"s":"Switzerland","x":1989,"y":18},{"s":"Switzerland","x":1991,"y":16},{"s":"Switzerland","x":1993,"y":14},{"s":"Switzerland","x":1995,"y":13},{"s":"Switzerland","x":1997,"y":12},{"s":"Switzerland","x":1999,"y":11},{"s":"Switzerland","x":2001,"y":10},{"s":"Switzerland","x":2003,"y":8.5},{"s":"Switzerland","x":2005,"y":7.5},{"s":"Switzerland","x":2007,"y":6.5},{"s":"Switzerland","x":2009,"y":5.5},{"s":"Switzerland","x":2010,"y":4.5},
{"s":"Finland","x":1972,"y":40},{"s":"Finland","x":1974,"y":33},{"s":"Finland","x":1976,"y":28},{"s":"Finland","x":1978,"y":23.6},{"s":"Finland","x":1980,"y":22},{"s":"Finland","x":1982,"y":20.5},{"s":"Finland","x":1984,"y":19},{"s":"Finland","x":1986,"y":18},{"s":"Finland","x":1988,"y":16.5},{"s":"Finland","x":1990,"y":14},{"s":"Finland","x":1992,"y":12},{"s":"Finland","x":1994,"y":10.5},{"s":"Finland","x":1996,"y":9.5},{"s":"Finland","x":1998,"y":8.9},{"s":"Finland","x":2000,"y":8.5},{"s":"Finland","x":2002,"y":8.5},{"s":"Finland","x":2004,"y":7.4},{"s":"Finland","x":2006,"y":6.8},{"s":"Finland","x":2007,"y":6.2},{"s":"Finland","x":2009,"y":5.2},{"s":"Finland","x":2010,"y":5.1},{"s":"Finland","x":2011,"y":5.4},
{"s":"Germany","x":1980,"y":38.2},{"s":"Germany","x":1981,"y":36},{"s":"Germany","x":1982,"y":34},{"s":"Germany","x":1983,"y":32.8},{"s":"Germany","x":1984,"y":28},{"s":"Germany","x":1985,"y":23.9},{"s":"Germany","x":1986,"y":23.2},{"s":"Germany","x":1987,"y":19.9},{"s":"Germany","x":1988,"y":19.8},{"s":"Germany","x":1989,"y":20.5},{"s":"Germany","x":1990,"y":20.1},{"s":"Germany","x":1991,"y":19.5},{"s":"Germany","x":1992,"y":18.1},{"s":"Germany","x":1993,"y":16.7},{"s":"Germany","x":1994,"y":16.1},{"s":"Germany","x":1995,"y":15.4},{"s":"Germany","x":1996,"y":13.9},{"s":"Germany","x":1998,"y":12.5},{"s":"Germany","x":2000,"y":11},{"s":"Germany","x":2002,"y":10},{"s":"Germany","x":2004,"y":8.5},{"s":"Germany","x":2006,"y":7.8},{"s":"Germany","x":2008,"y":6.3},{"s":"Germany","x":2009,"y":5.5},{"s":"Germany","x":2010,"y":5},{"s":"Germany","x":2011,"y":5.2},
{"s":"S. Korea","x":2000,"y":49.8},{"s":"S. Korea","x":2001,"y":33.5},{"s":"S. Korea","x":2002,"y":28},{"s":"S. Korea","x":2003,"y":26},{"s":"S. Korea","x":2004,"y":23.2},{"s":"S. Korea","x":2005,"y":18.3},{"s":"S. Korea","x":2006,"y":19.4},{"s":"S. Korea","x":2007,"y":19.8},{"s":"S. Korea","x":2008,"y":20.2},{"s":"S. Korea","x":2009,"y":20},{"s":"S. Korea","x":2010,"y":18.7},{"s":"S. Korea","x":2011,"y":17.7},
{"s":"Sweden","x":1970,"y":35},{"s":"Sweden","x":1971,"y":31.2},{"s":"Sweden","x":1972,"y":29.4},{"s":"Sweden","x":1973,"y":28},{"s":"Sweden","x":1974,"y":26},{"s":"Sweden","x":1975,"y":25.5},{"s":"Sweden","x":1976,"y":25.1},{"s":"Sweden","x":1977,"y":21.6},{"s":"Sweden","x":1978,"y":19.6},{"s":"Sweden","x":1979,"y":18.2},{"s":"Sweden","x":1980,"y":17},{"s":"Sweden","x":1981,"y":16.4},{"s":"Sweden","x":1982,"y":15.4},{"s":"Sweden","x":1983,"y":15.6},{"s":"Sweden","x":1984,"y":15.9},{"s":"Sweden","x":1985,"y":15.6},{"s":"Sweden","x":1986,"y":15.6},{"s":"Sweden","x":1987,"y":13.5},{"s":"Sweden","x":1988,"y":13.3},{"s":"Sweden","x":1989,"y":14},{"s":"Sweden","x":1990,"y":12.5},{"s":"Sweden","x":1991,"y":11.5},{"s":"Sweden","x":1992,"y":11},{"s":"Sweden","x":1993,"y":10},{"s":"Sweden","x":1994,"y":10},{"s":"Sweden","x":1995,"y":9.2},{"s":"Sweden","x":1996,"y":8.8},{"s":"Sweden","x":1997,"y":8.7},{"s":"Sweden","x":1998,"y":8.8},{"s":"Sweden","x":1999,"y":8.4},{"s":"Sweden","x":2000,"y":8.6},{"s":"Sweden","x":2001,"y":8.3},{"s":"Sweden","x":2002,"y":8.1},{"s":"Sweden","x":2003,"y":7.5},{"s":"Sweden","x":2004,"y":6.4},{"s":"Sweden","x":2005,"y":5.9},{"s":"Sweden","x":2006,"y":5.9},{"s":"Sweden","x":2007,"y":6},{"s":"Sweden","x":2008,"y":5},{"s":"Sweden","x":2009,"y":4.5},{"s":"Sweden","x":2010,"y":3.2},{"s":"Sweden","x":2011,"y":3.9},
{"s":"Australia","x":1970,"y":49.4},{"s":"Australia","x":1971,"y":44.6},{"s":"Australia","x":1976,"y":35.3},{"s":"Australia","x":1979,"y":31.2},{"s":"Australia","x":1982,"y":25.5},{"s":"Australia","x":1985,"y":20.8},{"s":"Australia","x":1988,"y":18.6},{"s":"Australia","x":1991,"y":14.1},{"s":"Australia","x":1995,"y":12.2},{"s":"Australia","x":1998,"y":10.4},{"s":"Australia","x":1999,"y":10.2},{"s":"Australia","x":2003,"y":7.9},{"s":"Australia","x":2004,"y":7.9},{"s":"Australia","x":2005,"y":7.9},{"s":"Australia","x":2006,"y":7.7},{"s":"Australia","x":2007,"y":7.4},{"s":"Australia","x":2008,"y":6.4},{"s":"Australia","x":2009,"y":6.4},{"s":"Australia","x":2010,"y":6.1},{"s":"Australia","x":2011,"y":5.6},
{"s":"GB","x":1970,"y":37.6},{"s":"GB","x":1971,"y":36.3},{"s":"GB","x":1972,"y":35.1},{"s":"GB","x":1973,"y":31.8},{"s":"GB","x":1974,"y":30},{"s":"GB","x":1975,"y":27.6},{"s":"GB","x":1976,"y":27.1},{"s":"GB","x":1977,"y":26.8},{"s":"GB","x":1978,"y":26.6},{"s":"GB","x":1979,"y":24.9},{"s":"GB","x":1980,"y":21.9},{"s":"GB","x":1981,"y":21.1},{"s":"GB","x":1982,"y":21.1},{"s":"GB","x":1983,"y":20.6},{"s":"GB","x":1984,"y":18.8},{"s":"GB","x":1985,"y":18.2},{"s":"GB","x":1986,"y":16.5},{"s":"GB","x":1987,"y":16.3},{"s":"GB","x":1988,"y":15.2},{"s":"GB","x":1989,"y":14},{"s":"GB","x":1990,"y":12.8},{"s":"GB","x":1991,"y":11.2},{"s":"GB","x":1992,"y":10.3},{"s":"GB","x":1993,"y":9.4},{"s":"GB","x":1994,"y":9.2},{"s":"GB","x":1995,"y":8.5},{"s":"GB","x":1996,"y":8.2},{"s":"GB","x":1997,"y":8.2},{"s":"GB","x":1998,"y":7.6},{"s":"GB","x":1999,"y":7.4},{"s":"GB","x":2000,"y":7.4},{"s":"GB","x":2001,"y":7.4},{"s":"GB","x":2002,"y":7.1},{"s":"GB","x":2003,"y":7.3},{"s":"GB","x":2004,"y":6.4},{"s":"GB","x":2005,"y":6.4},{"s":"GB","x":2006,"y":6.2},{"s":"GB","x":2007,"y":5.8},{"s":"GB","x":2008,"y":5.1},{"s":"GB","x":2009,"y":4.5},{"s":"GB","x":2010,"y":3.8},{"s":"GB","x":2011,"y":3.9},
{"s":"Canada","x":2000,"y":9.4},{"s":"Canada","x":2001,"y":8.9},{"s":"Canada","x":2002,"y":9.2},{"s":"Canada","x":2003,"y":8.9},{"s":"Canada","x":2004,"y":8.6},{"s":"Canada","x":2005,"y":9},{"s":"Canada","x":2006,"y":8.7},{"s":"Canada","x":2007,"y":8.2},{"s":"Canada","x":2008,"y":7.4},{"s":"Canada","x":2009,"y":6.6},{"s":"Canada","x":2010,"y":6.5},
{"s":"US","x":1970,"y":29.2},{"s":"US","x":1971,"y":27.8},{"s":"US","x":1972,"y":26.9},{"s":"US","x":1973,"y":25.3},{"s":"US","x":1974,"y":22.1},{"s":"US","x":1975,"y":21.1},{"s":"US","x":1976,"y":20.7},{"s":"US","x":1977,"y":20.5},{"s":"US","x":1978,"y":20.7},{"s":"US","x":1979,"y":21},{"s":"US","x":1980,"y":20.7},{"s":"US","x":1981,"y":19.7},{"s":"US","x":1982,"y":17.6},{"s":"US","x":1983,"y":16.1},{"s":"US","x":1984,"y":15.9},{"s":"US","x":1985,"y":15.7},{"s":"US","x":1986,"y":15.9},{"s":"US","x":1987,"y":15.2},{"s":"US","x":1988,"y":14.7},{"s":"US","x":1989,"y":13.9},{"s":"US","x":1990,"y":13},{"s":"US","x":1991,"y":12.2},{"s":"US","x":1992,"y":11.1},{"s":"US","x":1993,"y":10.9},{"s":"US","x":1994,"y":10.8},{"s":"US","x":1995,"y":10.6},{"s":"US","x":1996,"y":10.5},{"s":"US","x":1997,"y":10.3},{"s":"US","x":1998,"y":9.8},{"s":"US","x":1999,"y":9.5},{"s":"US","x":2000,"y":9.5},{"s":"US","x":2001,"y":9.5},{"s":"US","x":2002,"y":9.4},{"s":"US","x":2003,"y":9.3},{"s":"US","x":2004,"y":9.2},{"s":"US","x":2005,"y":9.2},{"s":"US","x":2006,"y":9},{"s":"US","x":2007,"y":8.4},{"s":"US","x":2008,"y":7.7},{"s":"US","x":2009,"y":7.3},{"s":"US","x":2010,"y":7.1},{"s":"US","x":2011,"y":6.8}
]
},
"hconcat": [
{
 "width": 572, "height": 460,
 "title": {"text": "a", "dx": 0, "offset": -4},
 "data": {"name": "a"},
 "encoding": {
  "x": {"field": "x", "type": "quantitative", "scale": {"domain": [1969, 2012.9], "nice": false, "zero": false}, "axis": {"values": [1970,1975,1980,1985,1990,1995,2000,2005,2010], "format": "d", "title": "Year", "titlePadding": 7}},
  "y": {"field": "y", "type": "quantitative", "scale": {"type": "log", "domain": [0.049, 5.4], "nice": false}, "axis": {"values": [0.05,0.06,0.08,0.1,0.2,0.3,0.4,0.5,0.6,0.8,1,2,3,4,5], "format": "~g", "title": "Annual Traffic Deaths/1000 Vehicles", "titlePadding": 8}}
 },
 "layer": [
  {"transform": [{"filter": {"field": "s", "oneOf": ["Italy","S. Korea","Spain","Poland","Greece","Belgium","Portugal","Czech Republic","Hungary","Austria","Israel","Denmark","Norway","Ireland","New Zealand"]}}],
   "mark": {"type": "line", "clip": true, "strokeWidth": 1},
   "encoding": {"color": {"field": "s", "type": "nominal", "legend": null, "scale": {"domain": ["Italy","S. Korea","Spain","Poland","Greece","Belgium","Portugal","Czech Republic","Hungary","Austria","Israel","Denmark","Norway","Ireland","New Zealand"], "range": ["#333","#222","#666","#555","#222","#222","#333","#222","#333","#333","#222","#444","#333","#444","#333"]}}}},
  {"transform": [{"filter": {"field": "s", "oneOf": ["Italy","S. Korea","Spain","Poland","Greece","Belgium","Portugal","Czech Republic","Hungary","Austria","Israel","Denmark","Norway","Ireland","New Zealand"]}}],
   "mark": {"type": "point", "filled": true, "opacity": 1, "clip": true},
   "encoding": {
    "shape": {"field": "s", "type": "nominal", "scale": {"domain": ["Italy","S. Korea","Spain","Poland","Greece","Belgium","Portugal","Czech Republic","Hungary","Austria","Israel","Denmark","Norway","Ireland","New Zealand"], "range": ["circle","circle","square","diamond","square","triangle-down","square","triangle-up","circle","diamond","triangle-up","diamond","triangle-up","square","diamond"]}, "legend": {"title": null, "orient": "none", "legendX": 452, "legendY": 8, "labelFontSize": 12, "rowPadding": 1.8, "labelOffset": 9}},
    "fill": {"field": "s", "type": "nominal", "scale": {"domain": ["Italy","S. Korea","Spain","Poland","Greece","Belgium","Portugal","Czech Republic","Hungary","Austria","Israel","Denmark","Norway","Ireland","New Zealand"], "range": ["#ddd","#555","#fff","#fff","#111","#111","#bbb","#111","#555","#fff","#111","#fff","#fff","#bbb","#555"]}, "legend": {"title": null, "orient": "none", "legendX": 452, "legendY": 8, "labelFontSize": 12, "rowPadding": 1.8, "labelOffset": 9}},
    "stroke": {"field": "s", "type": "nominal", "scale": {"domain": ["Italy","S. Korea","Spain","Poland","Greece","Belgium","Portugal","Czech Republic","Hungary","Austria","Israel","Denmark","Norway","Ireland","New Zealand"], "range": ["#333","#222","#777","#777","#111","#111","#333","#111","#444","#333","#111","#555","#333","#666","#444"]}, "legend": {"title": null, "orient": "none", "legendX": 452, "legendY": 8, "labelFontSize": 12, "rowPadding": 1.8, "labelOffset": 9}},
    "size": {"field": "s", "type": "nominal", "scale": {"type": "ordinal", "domain": ["Italy","S. Korea","Spain","Poland","Greece","Belgium","Portugal","Czech Republic","Hungary","Austria","Israel","Denmark","Norway","Ireland","New Zealand"], "range": [45,140,45,55,45,45,55,55,45,55,90,55,45,100,40]}, "legend": {"title": null, "orient": "none", "legendX": 452, "legendY": 8, "labelFontSize": 12, "rowPadding": 1.8, "labelOffset": 9}},
    "strokeWidth": {"field": "s", "type": "nominal", "scale": {"type": "ordinal", "domain": ["Italy","S. Korea","Spain","Poland","Greece","Belgium","Portugal","Czech Republic","Hungary","Austria","Israel","Denmark","Norway","Ireland","New Zealand"], "range": [1.5,1.5,1,1,1,1,1,1,1,1,1,1,1,1,1]}, "legend": {"title": null, "orient": "none", "legendX": 452, "legendY": 8, "labelFontSize": 12, "rowPadding": 1.8, "labelOffset": 9}}
   }},
  {"transform": [{"filter": {"field": "s", "oneOf": ["US","GB","Canada","Australia","Sweden","Netherlands","Switzerland","Finland","Germany","France","Japan"]}}],
   "mark": {"type": "line", "clip": true},
   "encoding": {
    "color": {"field": "s", "type": "nominal", "legend": null, "scale": {"domain": ["US","GB","Canada","Australia","Sweden","Netherlands","Switzerland","Finland","Germany","France","Japan"], "range": ["#111","#111","#111","#111","#333","#666","#888","#333","#222","#444","#444"]}},
    "strokeWidth": {"field": "s", "type": "nominal", "legend": null, "scale": {"type": "ordinal", "domain": ["US","GB","Canada","Australia","Sweden","Netherlands","Switzerland","Finland","Germany","France","Japan"], "range": [2,1.5,1.5,1.5,1.5,1,1,1,1,1,1]}}
   }},
  {"transform": [{"filter": {"field": "s", "oneOf": ["US","GB","Canada","Australia","Sweden","Netherlands","Switzerland","Finland","Germany","France","Japan"]}}],
   "mark": {"type": "point", "filled": true, "opacity": 1, "clip": true},
   "encoding": {
    "shape": {"field": "s", "type": "nominal", "scale": {"domain": ["US","GB","Canada","Australia","Sweden","Netherlands","Switzerland","Finland","Germany","France","Japan"], "range": ["diamond","square","circle","triangle-down","circle","circle","square","square","square","circle","circle"]}, "legend": {"title": null, "orient": "none", "legendX": 17, "legendY": 268, "labelFontSize": 10.5, "rowPadding": 0.8, "labelOffset": 8}},
    "fill": {"field": "s", "type": "nominal", "scale": {"domain": ["US","GB","Canada","Australia","Sweden","Netherlands","Switzerland","Finland","Germany","France","Japan"], "range": ["#111","#fff","#fff","#fff","#d0d0d0","#aaa","#fff","#fff","#111","#555","#666"]}, "legend": {"title": null, "orient": "none", "legendX": 17, "legendY": 268, "labelFontSize": 10.5, "rowPadding": 0.8, "labelOffset": 8}},
    "stroke": {"field": "s", "type": "nominal", "scale": {"domain": ["US","GB","Canada","Australia","Sweden","Netherlands","Switzerland","Finland","Germany","France","Japan"], "range": ["#111","#111","#111","#111","#444","#777","#888","#222","#111","#555","#444"]}, "legend": {"title": null, "orient": "none", "legendX": 17, "legendY": 268, "labelFontSize": 10.5, "rowPadding": 0.8, "labelOffset": 8}},
    "size": {"field": "s", "type": "nominal", "scale": {"type": "ordinal", "domain": ["US","GB","Canada","Australia","Sweden","Netherlands","Switzerland","Finland","Germany","France","Japan"], "range": [200,145,165,145,115,60,45,60,40,30,90]}, "legend": {"title": null, "orient": "none", "legendX": 17, "legendY": 268, "labelFontSize": 10.5, "rowPadding": 0.8, "labelOffset": 8}},
    "strokeWidth": {"field": "s", "type": "nominal", "scale": {"type": "ordinal", "domain": ["US","GB","Canada","Australia","Sweden","Netherlands","Switzerland","Finland","Germany","France","Japan"], "range": [1,2,2,2,3,1,1,1.5,1,1,1]}, "legend": {"title": null, "orient": "none", "legendX": 17, "legendY": 268, "labelFontSize": 10.5, "rowPadding": 0.8, "labelOffset": 8}}
   }}
 ],
 "resolve": {"scale": {"color": "independent", "shape": "independent", "fill": "independent", "stroke": "independent", "size": "independent", "strokeWidth": "independent"}, "legend": {"shape": "independent", "fill": "independent", "stroke": "independent", "size": "independent", "strokeWidth": "independent"}}
},
{
 "width": 567, "height": 461,
 "title": {"text": "b", "dx": -6, "offset": -6},
 "data": {"name": "b"},
 "encoding": {
  "x": {"field": "x", "type": "quantitative", "scale": {"domain": [1969.07, 2013.1], "nice": false, "zero": false}, "axis": {"values": [1970,1975,1980,1985,1990,1995,2000,2005,2010], "format": "d", "title": "Year", "titlePadding": 6}},
  "y": {"field": "y", "type": "quantitative", "scale": {"type": "log", "domain": [2.83, 78.5], "nice": false}, "axis": {"values": [3,4,5,6,7,8,10,15,20,30,40,50,60,70], "format": "~g", "title": "Annual Traffic Deaths/Billion km", "titlePadding": 8}}
 },
 "layer": [
  {"transform": [{"filter": {"field": "s", "oneOf": ["France","Denmark","Norway","Israel","Ireland","Austria","New Zealand","Czech Republic"]}}],
   "mark": {"type": "line", "clip": true, "strokeWidth": 1},
   "encoding": {"color": {"field": "s", "type": "nominal", "legend": null, "scale": {"domain": ["France","Denmark","Norway","Israel","Ireland","Austria","New Zealand","Czech Republic"], "range": ["#333","#444","#333","#222","#444","#333","#333","#222"]}}}},
  {"transform": [{"filter": {"field": "s", "oneOf": ["France","Denmark","Norway","Israel","Ireland","Austria","New Zealand","Czech Republic"]}}],
   "mark": {"type": "point", "filled": true, "opacity": 1, "clip": true},
   "encoding": {
    "shape": {"field": "s", "type": "nominal", "scale": {"domain": ["France","Denmark","Norway","Israel","Ireland","Austria","New Zealand","Czech Republic"], "range": ["circle","diamond","triangle-up","triangle-up","square","diamond","diamond","triangle-up"]}, "legend": {"title": null, "orient": "none", "legendX": 168, "legendY": 282, "labelFontSize": 13, "rowPadding": 2.5, "labelOffset": 11}},
    "fill": {"field": "s", "type": "nominal", "scale": {"domain": ["France","Denmark","Norway","Israel","Ireland","Austria","New Zealand","Czech Republic"], "range": ["#555","#fff","#fff","#111","#bbb","#fff","#555","#111"]}, "legend": {"title": null, "orient": "none", "legendX": 168, "legendY": 282, "labelFontSize": 13, "rowPadding": 2.5, "labelOffset": 11}},
    "stroke": {"field": "s", "type": "nominal", "scale": {"domain": ["France","Denmark","Norway","Israel","Ireland","Austria","New Zealand","Czech Republic"], "range": ["#555","#555","#333","#111","#666","#333","#444","#111"]}, "legend": {"title": null, "orient": "none", "legendX": 168, "legendY": 282, "labelFontSize": 13, "rowPadding": 2.5, "labelOffset": 11}},
    "size": {"field": "s", "type": "nominal", "scale": {"type": "ordinal", "domain": ["France","Denmark","Norway","Israel","Ireland","Austria","New Zealand","Czech Republic"], "range": [35,50,45,70,90,55,40,60]}, "legend": {"title": null, "orient": "none", "legendX": 168, "legendY": 282, "labelFontSize": 13, "rowPadding": 2.5, "labelOffset": 11}}
   }},
  {"transform": [{"filter": {"field": "s", "oneOf": ["US","Canada","Australia","GB","Netherlands","Switzerland","Finland","Germany","S. Korea","Sweden","Japan"]}}],
   "mark": {"type": "line", "clip": true},
   "encoding": {
    "color": {"field": "s", "type": "nominal", "legend": null, "scale": {"domain": ["US","Canada","Australia","GB","Netherlands","Switzerland","Finland","Germany","S. Korea","Sweden","Japan"], "range": ["#111","#111","#111","#111","#666","#888","#333","#222","#333","#333","#444"]}},
    "strokeWidth": {"field": "s", "type": "nominal", "legend": null, "scale": {"type": "ordinal", "domain": ["US","Canada","Australia","GB","Netherlands","Switzerland","Finland","Germany","S. Korea","Sweden","Japan"], "range": [2,1.5,1.5,1.5,1,1,1,1,1,1.5,1]}}
   }},
  {"transform": [{"filter": {"field": "s", "oneOf": ["US","Canada","Australia","GB","Netherlands","Switzerland","Finland","Germany","S. Korea","Sweden","Japan"]}}],
   "mark": {"type": "point", "filled": true, "opacity": 1, "clip": true},
   "encoding": {
    "shape": {"field": "s", "type": "nominal", "scale": {"domain": ["US","Canada","Australia","GB","Netherlands","Switzerland","Finland","Germany","S. Korea","Sweden","Japan"], "range": ["diamond","circle","triangle-down","square","circle","square","square","square","circle","circle","circle"]}, "legend": {"title": null, "orient": "none", "legendX": 30, "legendY": 230, "labelFontSize": 13, "rowPadding": 3, "labelOffset": 10}},
    "fill": {"field": "s", "type": "nominal", "scale": {"domain": ["US","Canada","Australia","GB","Netherlands","Switzerland","Finland","Germany","S. Korea","Sweden","Japan"], "range": ["#111","#fff","#fff","#fff","#aaa","#fff","#fff","#111","#555","#d0d0d0","#666"]}, "legend": {"title": null, "orient": "none", "legendX": 30, "legendY": 230, "labelFontSize": 13, "rowPadding": 3, "labelOffset": 10}},
    "stroke": {"field": "s", "type": "nominal", "scale": {"domain": ["US","Canada","Australia","GB","Netherlands","Switzerland","Finland","Germany","S. Korea","Sweden","Japan"], "range": ["#111","#111","#111","#111","#777","#888","#222","#111","#222","#444","#444"]}, "legend": {"title": null, "orient": "none", "legendX": 30, "legendY": 230, "labelFontSize": 13, "rowPadding": 3, "labelOffset": 10}},
    "size": {"field": "s", "type": "nominal", "scale": {"type": "ordinal", "domain": ["US","Canada","Australia","GB","Netherlands","Switzerland","Finland","Germany","S. Korea","Sweden","Japan"], "range": [230,190,170,170,70,45,60,45,140,130,110]}, "legend": {"title": null, "orient": "none", "legendX": 30, "legendY": 230, "labelFontSize": 13, "rowPadding": 3, "labelOffset": 10}},
    "strokeWidth": {"field": "s", "type": "nominal", "scale": {"type": "ordinal", "domain": ["US","Canada","Australia","GB","Netherlands","Switzerland","Finland","Germany","S. Korea","Sweden","Japan"], "range": [1,2,2,2,1,1,1.5,1,1.5,3,1]}, "legend": {"title": null, "orient": "none", "legendX": 30, "legendY": 230, "labelFontSize": 13, "rowPadding": 3, "labelOffset": 10}}
   }}
 ],
 "resolve": {"scale": {"color": "independent", "shape": "independent", "fill": "independent", "stroke": "independent", "size": "independent", "strokeWidth": "independent"}, "legend": {"shape": "independent", "fill": "independent", "stroke": "independent", "size": "independent", "strokeWidth": "independent"}}
}
]
}
